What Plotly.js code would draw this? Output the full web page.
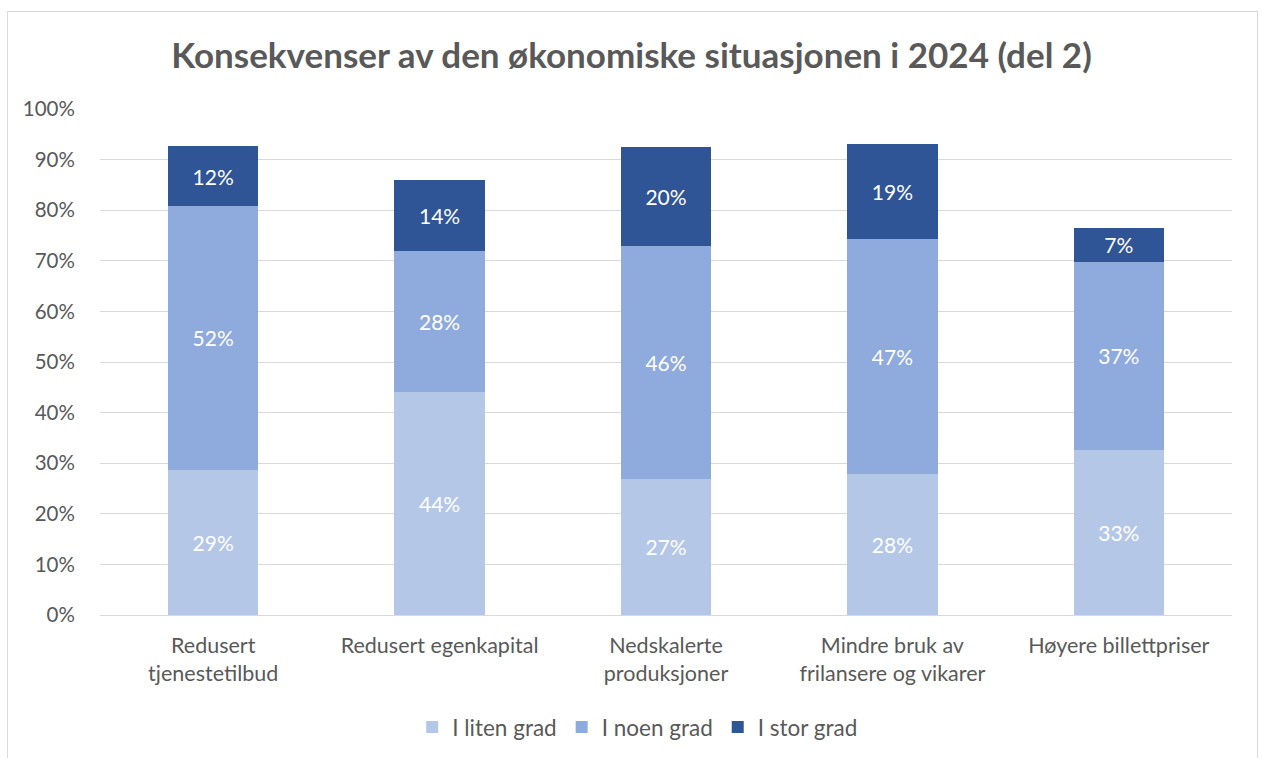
<!DOCTYPE html>
<html>
<head>
<meta charset="utf-8">
<script src="https://cdn.plot.ly/plotly-3.0.1.min.js"></script>
<style>
  body { margin: 0; padding: 0; background: #fff; }
  #wrap { position: relative; width: 1263px; height: 758px; overflow: hidden; }
  #chart { width: 1263px; height: 758px; }
  #frame { position: absolute; left: 7px; top: 11px; width: 1249px; height: 800px; border: 1px solid #d9d9d9; pointer-events: none; }
</style>
</head>
<body>
<div id="wrap">
  <div id="chart"></div>
  <div id="frame"></div>
</div>
<script>
const categories = [
  "Redusert<br>tjenestetilbud",
  "Redusert egenkapital",
  "Nedskalerte<br>produksjoner",
  "Mindre bruk av<br>frilansere og vikarer",
  "Høyere billettpriser"
];
const seriesNames = ["I liten grad", "I noen grad", "I stor grad"];
const litenGrad = [28.7, 44.1, 26.9, 27.8, 32.6];
const noenGrad  = [52.1, 27.8, 46.0, 46.6, 37.2];
const storGrad  = [11.9, 14.1, 19.6, 18.6, 6.7];
const colors = ["#B4C7E7", "#8FAADC", "#2F5597"];
const values = [litenGrad, noenGrad, storGrad];

const font = "Lato, 'Open Sans', 'Liberation Sans', sans-serif";

const traces = values.map((v, i) => ({
  type: "bar",
  name: seriesNames[i],
  x: categories,
  y: v,
  marker: { color: colors[i] },
  text: v.map(val => Math.round(val) + "%"),
  textposition: "inside",
  insidetextanchor: "middle",
  textfont: { color: "#ffffff", size: 21, family: font },
  hoverinfo: "x+y+name"
}));

const layout = {
  width: 1263,
  height: 758,
  barmode: "stack",
  bargap: 0.6,
  paper_bgcolor: "#ffffff",
  plot_bgcolor: "#ffffff",
  margin: { l: 100, r: 31, t: 109, b: 143, autoexpand: false },
  font: { family: font, color: "#595959", size: 20 },
  title: {
    text: "<b>Konsekvenser av den økonomiske situasjonen i 2024 (del 2)</b>",
    font: { family: font, size: 35, color: "#595959" },
    x: 0.5, xanchor: "center",
    y: 0.927, yanchor: "middle"
  },
  xaxis: {
    tickfont: { size: 21.5, color: "#595959", family: font },
    showgrid: false,
    showline: true,
    linecolor: "#d9d9d9",
    linewidth: 1,
    ticks: "",
    ticklabelstandoff: 11,
    automargin: false,
    fixedrange: true
  },
  yaxis: {
    range: [0, 100],
    dtick: 10,
    ticksuffix: "%",
    tickfont: { size: 20.5, color: "#595959", family: font },
    showgrid: true,
    gridcolor: "#d9d9d9",
    gridwidth: 1,
    zeroline: false,
    showline: false,
    ticks: "outside",
    ticklen: 20,
    tickcolor: "rgba(0,0,0,0)",
    automargin: false,
    fixedrange: true
  },
  legend: {
    orientation: "h",
    x: 0.475, xanchor: "center",
    y: -0.222, yanchor: "middle",
    font: { size: 22.5, color: "#595959", family: font },
    traceorder: "normal",
    itemwidth: 30
  },
  showlegend: true
};

Plotly.newPlot("chart", traces, layout, { displayModeBar: false, staticPlot: true });
</script>
</body>
</html>
